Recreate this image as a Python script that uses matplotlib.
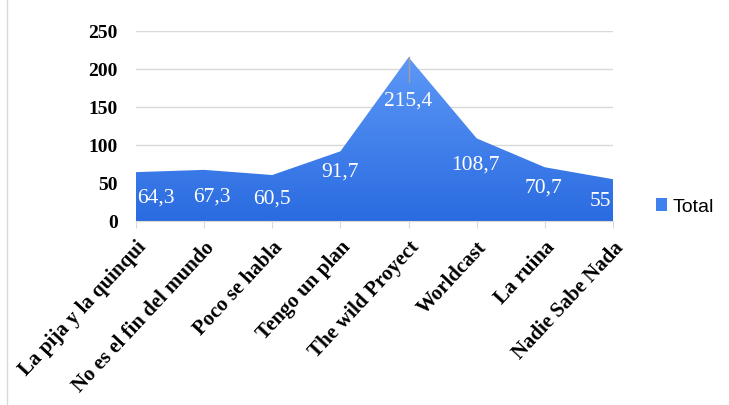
import matplotlib
matplotlib.use('Agg')
import numpy as np
import matplotlib.pyplot as plt
from matplotlib.colors import LinearSegmentedColormap
from matplotlib.lines import Line2D
from matplotlib.patches import Patch

categories = ['La pija y la quinqui', 'No es el fin del mundo', 'Poco se habla',
              'Tengo un plan', 'The wild Proyect', 'Worldcast', 'La ruina',
              'Nadie Sabe Nada']
totals = [64.3, 67.3, 60.5, 91.7, 215.4, 108.7, 70.7, 55]
value_labels = ['64,3', '67,3', '60,5', '91,7', '215,4', '108,7', '70,7', '55']
yticks = [0, 50, 100, 150, 200, 250]

# label placement (screen offset in px, height in data units)
lab_dx = [20, 8, 0, 0, 0, -1, -1, -13]
lab_y = [30, 31.5, 29, 64, 158, 74, 43, 26]

serif = 'Liberation Serif'
fig = plt.figure(figsize=(7.29, 4.05), dpi=100)
ax = fig.add_axes([136/729, 1-221/405, (613-136)/729, (221-31)/405])

x = np.arange(len(totals))
ax.set_xlim(0, len(totals)-1)
ax.set_ylim(0, 250)

# gradient fill clipped to the area
cmap = LinearSegmentedColormap.from_list('g', ['#2a6be0', '#5d98f7'])
poly = ax.fill_between(x, 0, totals, color='none', lw=0)
grad = np.linspace(0, 1, 256).reshape(-1, 1)
img = ax.imshow(grad, extent=[0, len(totals)-1, 0, max(totals)], origin='lower',
                aspect='auto', cmap=cmap, zorder=2)
path = poly.get_paths()[0]
img.set_clip_path(path, transform=ax.transData)

for yv in yticks[1:]:
    ax.axhline(yv, color='#d9d9d9', lw=1, zorder=1)

# leader at the peak
ipk = int(np.argmax(totals))
ax.plot([x[ipk], x[ipk]], [totals[ipk], totals[ipk]-33], color='#a0a0a0', lw=1, zorder=3)

for i, (lbl, ly) in enumerate(zip(value_labels, lab_y)):
    ax.annotate(lbl, (x[i], ly), xytext=(lab_dx[i]*0.72, 0), textcoords='offset points',
                ha='center', va='center', color='white', fontsize=15.5,
                family=serif, zorder=4)

for s in ['top', 'right', 'left']:
    ax.spines[s].set_visible(False)
ax.spines['bottom'].set_color('#d9d9d9')

ax.set_yticks(yticks)
ax.set_yticklabels([str(v) for v in yticks], fontsize=14, fontweight='bold', family=serif)
ax.tick_params(axis='y', length=0, pad=13)
ax.set_xticks(x)
ax.set_xticklabels(categories, rotation=47, ha='right', va='top', rotation_mode='anchor',
                   fontsize=15, fontweight='bold', family=serif)
ax.tick_params(axis='x', length=5, color='#d9d9d9', pad=7)

leg = fig.legend(handles=[Patch(facecolor='#3f82ee', edgecolor='none')], labels=['Total'],
                 loc='center left', bbox_to_anchor=(638/729, 1-207/405), frameon=False,
                 handlelength=0.6, handleheight=0.6, handletextpad=0.3,
                 prop={'family': 'Liberation Sans', 'size': 14})

fig.add_artist(Line2D([7/729, 7/729], [0, 1], color='#d9d9d9', lw=1))

fig.savefig('out.png', dpi=100)
